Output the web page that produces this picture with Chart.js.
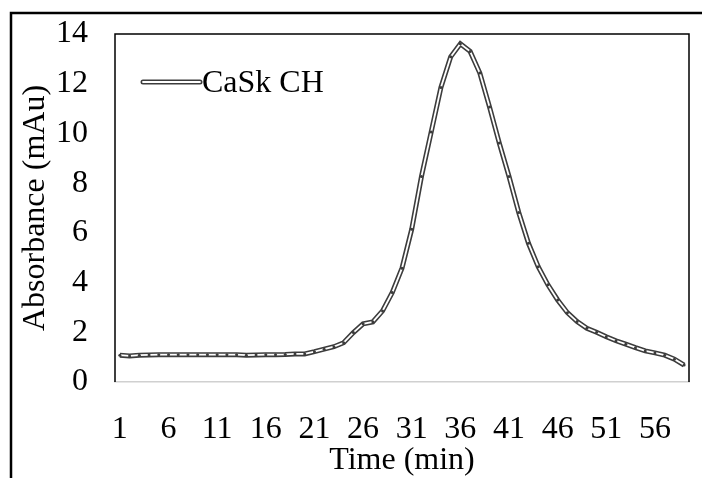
<!DOCTYPE html>
<html>
<head>
<meta charset="utf-8">
<script src="https://cdn.jsdelivr.net/npm/chart.js@4"></script>
<style>
  body { margin: 0; background: #fff; }
  #wrap { width: 702px; height: 478px; }
</style>
</head>
<body>
<div id="wrap"><canvas id="myChart" width="702" height="478"></canvas></div>
<script>
// elution profile, one reading per minute
const times = [1, 2, 3, 4, 5, 6, 7, 8, 9, 10, 11, 12, 13, 14, 15, 16, 17, 18, 19, 20,
    21, 22, 23, 24, 25, 26, 27, 28, 29, 30, 31, 32, 33, 34, 35, 36, 37, 38, 39, 40,
    41, 42, 43, 44, 45, 46, 47, 48, 49, 50, 51, 52, 53, 54, 55, 56, 57, 58, 59];
const absorbance = [1.08, 1.05, 1.08, 1.09, 1.10, 1.10, 1.10, 1.10, 1.10, 1.10,
    1.10, 1.10, 1.10, 1.08, 1.09, 1.10, 1.10, 1.11, 1.13, 1.13,
    1.22, 1.32, 1.42, 1.58, 1.99, 2.34, 2.42, 2.86, 3.60, 4.58,
    6.15, 8.27, 10.06, 11.85, 13.08, 13.61, 13.30, 12.43, 11.06, 9.61,
    8.27, 6.82, 5.58, 4.64, 3.91, 3.30, 2.79, 2.43, 2.16, 2.00,
    1.82, 1.66, 1.52, 1.38, 1.25, 1.17, 1.08, 0.92, 0.68];
const seriesName = 'CaSk CH';

const font = { family: '"Liberation Serif", "Times New Roman", serif', size: 32 };
const lineDark = '#3c3c3c';

// outer frame + plot box + the inline legend
const decorations = {
    id: 'decorations',
    beforeDraw(chart) {
        const ctx = chart.ctx;
        ctx.save();
        ctx.strokeStyle = '#000';
        ctx.lineWidth = 2.5;
        ctx.strokeRect(11, 13, chart.width + 40, chart.height + 40);
        ctx.restore();
    },
    beforeDatasetsDraw(chart) {
        const ctx = chart.ctx;
        const a = chart.chartArea;
        ctx.save();
        ctx.strokeStyle = '#000';
        ctx.lineWidth = 1.5;
        ctx.beginPath();
        ctx.moveTo(a.left, a.bottom);
        ctx.lineTo(a.left, a.top);
        ctx.lineTo(a.right, a.top);
        ctx.lineTo(a.right, a.bottom);
        ctx.stroke();
        ctx.restore();
    },
    afterDatasetsDraw(chart) {
        const ctx = chart.ctx;
        const x0 = 143, x1 = 200, y = 82;
        ctx.save();
        ctx.lineCap = 'round';
        ctx.strokeStyle = lineDark;
        ctx.lineWidth = 5;
        ctx.beginPath(); ctx.moveTo(x0, y); ctx.lineTo(x1, y); ctx.stroke();
        ctx.strokeStyle = '#fff';
        ctx.lineWidth = 1.8;
        ctx.beginPath(); ctx.moveTo(x0, y); ctx.lineTo(x1, y); ctx.stroke();
        ctx.fillStyle = '#000';
        ctx.font = `${font.size}px ${font.family}`;
        ctx.textBaseline = 'middle';
        ctx.textAlign = 'left';
        ctx.fillText(chart.data.datasets[0].label, 202, 84);
        ctx.restore();
    }
};

const ctx = document.getElementById('myChart').getContext('2d');
const myChart = new Chart(ctx, {
    type: 'line',
    data: {
        labels: times,
        datasets: [
            {
                label: seriesName,
                data: absorbance,
                borderColor: lineDark,
                borderWidth: 5,
                pointRadius: 0,
                tension: 0,
                order: 2
            },
            {
                label: seriesName,
                data: absorbance,
                borderColor: '#fff',
                borderWidth: 1.8,
                pointRadius: 1.5,
                pointBorderWidth: 0,
                pointBackgroundColor: lineDark,
                tension: 0,
                order: 1
            }
        ]
    },
    options: {
        responsive: false,
        animation: false,
        layout: { padding: { top: 34, right: 13, left: 0, bottom: 0 } },
        plugins: {
            legend: { display: false },
            tooltip: { enabled: false }
        },
        scales: {
            x: {
                type: 'category',
                offset: true,
                grid: { display: false, drawTicks: false },
                border: { color: '#d0d0d0', width: 1.5 },
                ticks: {
                    autoSkip: false,
                    maxRotation: 0,
                    padding: 28,
                    color: '#000',
                    font: font,
                    callback: function (v, i) {
                        return i % 5 === 0 ? this.getLabelForValue(v) : '';
                    }
                },
                title: { display: true, text: 'Time (min)', color: '#000', font: font, padding: { bottom: -2 } },
                afterFit(scale) {
                    scale.height = 96;
                    scale.paddingLeft = 0;
                    scale.paddingRight = 0;
                }
            },
            y: {
                min: 0,
                max: 14,
                grid: { display: false, drawTicks: false },
                border: { display: false },
                ticks: { stepSize: 2, padding: 27, color: '#000', font: font },
                title: { display: true, text: 'Absorbance (mAu)', color: '#000', font: font, padding: { top: 16 } },
                afterFit(scale) {
                    scale.width = 115;
                    scale.paddingTop = 0;
                    scale.paddingBottom = 0;
                }
            }
        }
    },
    plugins: [decorations]
});
</script>
</body>
</html>
